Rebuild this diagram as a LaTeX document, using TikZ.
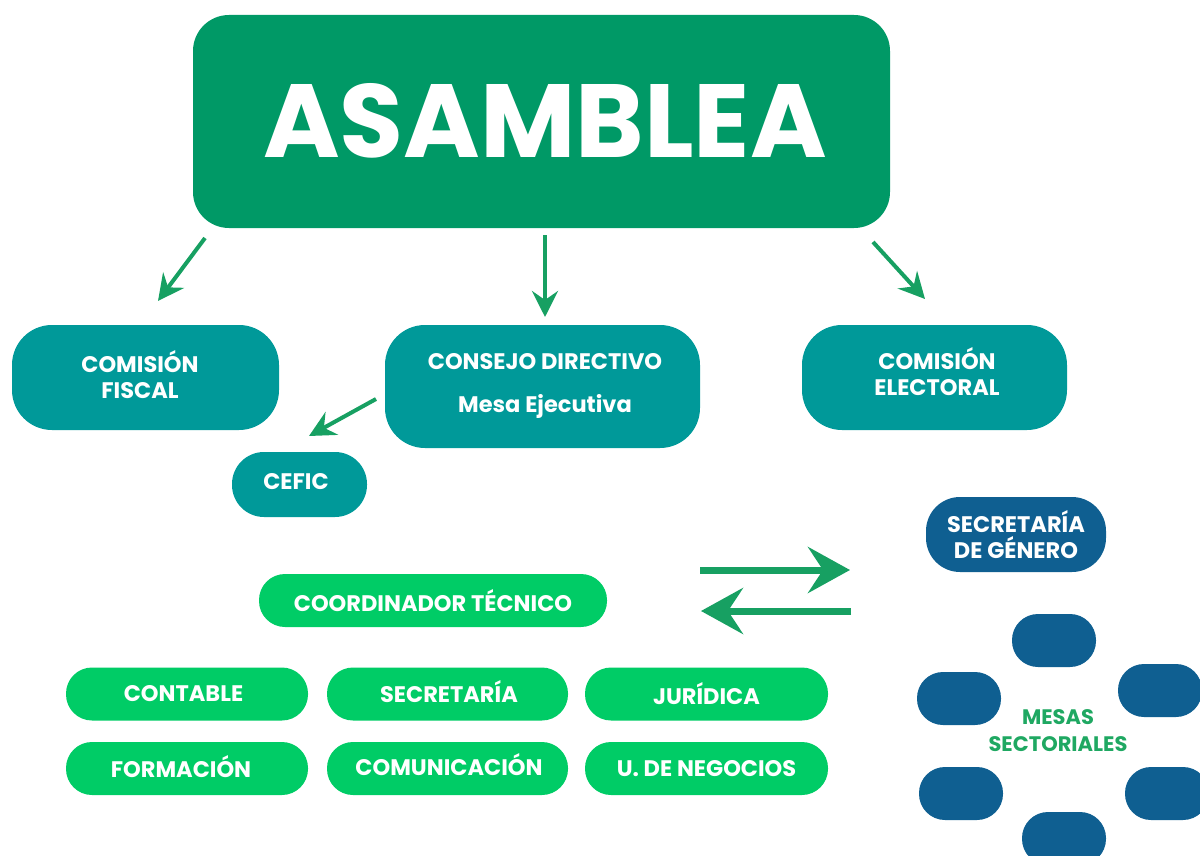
\documentclass[tikz,border=0pt]{standalone}
\usepackage{fontspec}
\setmainfont{Poppins}
\usetikzlibrary{arrows.meta}
\definecolor{asam}{HTML}{009966}
\definecolor{teal1}{HTML}{009999}
\definecolor{blue1}{HTML}{0F5F91}
\definecolor{lgreen}{HTML}{00CC66}
\definecolor{arrg}{HTML}{17A062}
\definecolor{txtg}{HTML}{1FA862}
\tikzset{
  lbl/.style={text=white, font=\bfseries\fontsize{22.5}{26}\selectfont, align=center, inner sep=0pt},
  box/.style={rounded corners=#1, inner sep=0pt, lbl},
  tealbox/.style={box=40pt, fill=teal1},
  bluebox/.style={box=34pt, fill=blue1},
  greenbox/.style={box=26pt, fill=lgreen},
  oval/.style={fill=blue1, rounded corners=26pt},
  arr/.style={draw=arrg, line width=4pt, -{Stealth[length=26pt,width=26pt,inset=9pt]}},
  bigarr/.style={draw=arrg, line width=7pt, -{Stealth[length=42pt,width=46pt,inset=15pt]}}
}
\begin{document}
\begin{tikzpicture}[x=1pt,y=-1pt]
\useasboundingbox (0,0) rectangle (1200,856);
\clip (0,0) rectangle (1200,856);
% ASAMBLEA
\node[box=36pt, fill=asam, minimum width=697pt, minimum height=213pt] (asam) at (541.5,121.5) {};
\node[lbl, font=\bfseries\fontsize{104}{110}\selectfont] (asamt) at (545,121) {ASAMBLEA};
% level 2
\node[tealbox, minimum width=267pt, minimum height=105pt] (fiscal) at (145.5,377.5) {};
\node[lbl] (fiscalt) at (140,375) {COMISIÓN\\FISCAL};
\node[tealbox, minimum width=315pt, minimum height=123pt] (consejo) at (542.5,386.5) {};
\node[lbl] (consejot) at (545,362) {CONSEJO DIRECTIVO};
\node[lbl] (mesa) at (545,406) {Mesa Ejecutiva};
\node[tealbox, minimum width=265pt, minimum height=105pt] (electoral) at (934.5,377.5) {};
\node[lbl] (electoralt) at (937,372) {COMISIÓN\\ELECTORAL};
\node[box=32pt, fill=teal1, minimum width=135pt, minimum height=65pt] (cefic) at (299.5,484.5) {};
\node[lbl] (cefict) at (296,482) {CEFIC};
% secretaria de genero
\node[bluebox, minimum width=180pt, minimum height=75pt] (genero) at (1016,534.5) {SECRETARÍA\\DE GÉNERO};
% coordinador
\node[greenbox, minimum width=348pt, minimum height=53pt] (coord) at (433,600.5) {COORDINADOR TÉCNICO};
\node[greenbox, minimum width=242pt, minimum height=53pt] (contable) at (187,694) {};
\node[lbl] (contablet) at (183.5,694) {CONTABLE};
\node[greenbox, minimum width=241pt, minimum height=53pt] (secret) at (447.5,694) {};
\node[lbl] (secrett) at (449,692) {SECRETARÍA};
\node[greenbox, minimum width=243pt, minimum height=53pt] (juridica) at (706.5,694) {JURÍDICA};
\node[greenbox, minimum width=242pt, minimum height=53pt] (formacion) at (187,768.5) {};
\node[lbl] (formaciont) at (181,767) {FORMACIÓN};
\node[greenbox, minimum width=241pt, minimum height=53pt] (comunic) at (447.5,768.5) {};
\node[lbl] (comunict) at (449,765) {COMUNICACIÓN};
\node[greenbox, minimum width=243pt, minimum height=53pt] (negocios) at (706.5,768.5) {U. DE NEGOCIOS};
% mesas sectoriales
\fill[oval] (1012,614) rectangle (1096,667);
\fill[oval] (917,672) rectangle (1001,725);
\fill[oval] (1118,664) rectangle (1202,717);
\fill[oval] (919,767) rectangle (1003,820);
\fill[oval] (1125,767) rectangle (1209,820);
\fill[oval] (1022,812) rectangle (1106,865);
\node[text=txtg, font=\bfseries\fontsize{21}{27}\selectfont, align=center] (mesas) at (1058,731) {MESAS\\SECTORIALES};
% arrows
\coordinate (a1s) at (205,238); \coordinate (a1e) at (158,301);
\coordinate (a2s) at (545,235); \coordinate (a2e) at (545,317);
\coordinate (a3s) at (873,242); \coordinate (a3e) at (925,299);
\coordinate (a4s) at (376,399); \coordinate (a4e) at (309,436);
\draw[arr] (a1s) -- (a1e);
\draw[arr] (a2s) -- (a2e);
\draw[arr] (a3s) -- (a3e);
\draw[arr] (a4s) -- (a4e);
\coordinate (b1s) at (700,570); \coordinate (b1e) at (850,570);
\coordinate (b2s) at (851,611); \coordinate (b2e) at (701,611);
\draw[bigarr] (b1s) -- (b1e);
\draw[bigarr] (b2s) -- (b2e);
\end{tikzpicture}
\end{document}
